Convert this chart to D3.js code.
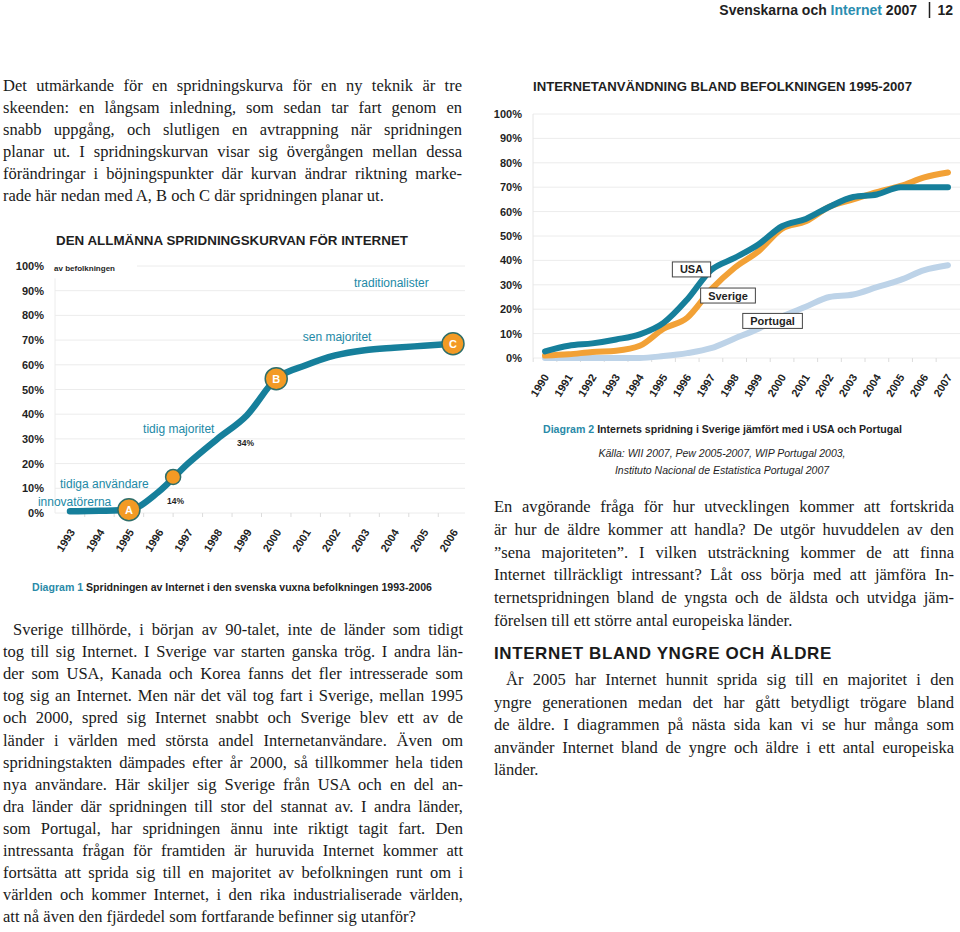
<!DOCTYPE html>
<html><head><meta charset="utf-8">
<script src="https://cdn.jsdelivr.net/npm/d3@7"></script>
<style>
html,body{margin:0;padding:0;background:#fff;}
body{width:960px;height:932px;position:relative;overflow:hidden;}
svg{position:absolute;left:0;top:0;}
.ln{position:absolute;white-space:nowrap;font-family:"Liberation Serif","Times New Roman",serif;font-size:16.5px;line-height:22px;height:22px;color:#1a1a1a;}
.hd{position:absolute;white-space:nowrap;font-family:"Liberation Sans",Arial,sans-serif;font-weight:bold;font-size:17px;letter-spacing:0.6px;color:#1a1a1a;}
</style></head><body>
<svg id="chart" width="960" height="932"></svg>
<div id="text"></div>
<script>
// ---------- Data: Diagram 1 (general diffusion curve) ----------
const curveYears  = [1993,1994,1995,1996,1997,1998,1999,2000,2001,2002,2003,2004,2005,2006];
const curveValues = [0.7, 0.9, 1.3, 8.5, 20,  30,  39.5,54.4,59.8,63.8,65.9,66.9,67.7,68.5];
const markerYears  = [1995, 1996.5, 2000, 2006];
const markerValues = [1.3, 14.6, 54.4, 68.5];
const markerLabels = ["A", "", "B", "C"];
const pctTicks = [0,10,20,30,40,50,60,70,80,90,100];
const phaseLabels = ["innovatörerna","tidiga användare","tidig majoritet","sen majoritet","traditionalister"];
const phaseYears  = [1991.91, 1992.66, 1995.48, 2000.9, 2002.64];
const phaseValues = [4.45, 11.7, 34, 71.3, 93.1];
const shareLabels = ["14%","34%"];
const shareYears  = [1996.29, 1998.67];
const shareValues = [4.9, 28.3];

// ---------- Data: Diagram 2 (Sweden, USA, Portugal) ----------
const years2 = [1990,1991,1992,1993,1994,1995,1996,1997,1998,1999,2000,2001,2002,2003,2004,2005,2006,2007];
const usaValues      = [2.7,5,6,7.6,9.7,14.4,24,36,41,46.5,54,57,62,66,67,70,70,70];
const sverigeValues  = [1,1.5,2.5,3,5,12,16.5,28,37,43.7,53,56,62,65,68,70.5,74,76];
const portugalValues = [0,0,0,0,0,0.8,2,4,8,12,17,21,25,26,29,32,36,38];
const seriesNames = ["Portugal","Sverige","USA"];
const labelYears  = [1999.6, 1997.72, 1996.18];
const labelValues = [15.2, 25.6, 36.3];

const TEAL = "#167f9b", ORANGE = "#f2a136", LIGHT = "#bdd3e8", TXT = "#1f1f1f", ANN = "#2289a6";
const SANS = "'Liberation Sans', Arial, sans-serif";

const svg = d3.select("#chart");

// ---------- Header ----------
const hdr = svg.append("text").attr("x", 917).attr("y", 15).attr("text-anchor","end")
  .style("font-family", SANS).style("font-size","14px").style("font-weight","bold").attr("fill", TXT);
hdr.append("tspan").text("Svenskarna och ");
hdr.append("tspan").attr("fill", "#2a8db0").text("Internet");
hdr.append("tspan").text(" 2007");
svg.append("line").attr("x1",929.5).attr("x2",929.5).attr("y1",2).attr("y2",18).attr("stroke",TXT).attr("stroke-width",1.5);
svg.append("text").attr("x",953).attr("y",15).attr("text-anchor","end").style("font-family",SANS)
  .style("font-size","14px").style("font-weight","bold").attr("fill",TXT).text("12");

// ---------- Diagram 1 ----------
const x1 = d3.scaleLinear().domain([1993, 2006]).range([70, 453]);
const y1 = d3.scaleLinear().domain([0, 100]).range([513, 266]);
const g1 = svg.append("g");

g1.append("text").attr("x", 56).attr("y", 245).attr("textLength", 352).attr("lengthAdjust","spacingAndGlyphs")
  .style("font-family", SANS).style("font-size","13px").style("font-weight","bold").attr("fill", TXT)
  .text("DEN ALLMÄNNA SPRIDNINGSKURVAN FÖR INTERNET");

g1.selectAll(".grid").data(pctTicks).join("line")
  .attr("x1", 55).attr("x2", 465).attr("y1", d => y1(d)).attr("y2", d => y1(d))
  .attr("stroke", "#ececec").attr("stroke-width", 1);
g1.append("line").attr("x1",55).attr("x2",55).attr("y1",y1(95)).attr("y2",y1(0)).attr("stroke","#ececec");
g1.selectAll(".tk").data(d3.range(1993.5, 2006, 1)).join("line")
  .attr("x1", d => x1(d)).attr("x2", d => x1(d)).attr("y1", y1(0)).attr("y2", y1(0) + 4)
  .attr("stroke", "#dcdcdc");

const yAxis1 = g1.append("g").attr("transform", "translate(44,0)")
  .call(d3.axisLeft(y1).tickValues(pctTicks).tickFormat(d => d + "%").tickSize(0).tickPadding(0));
yAxis1.select(".domain").remove();
yAxis1.selectAll("text").style("font-family", SANS).style("font-size","11px").style("font-weight","bold").attr("fill", TXT);

const xAxis1 = g1.append("g").attr("transform", `translate(0,${y1(0)})`)
  .call(d3.axisBottom(x1).tickValues(curveYears).tickFormat(d3.format("d")).tickSize(0));
xAxis1.select(".domain").remove();
xAxis1.selectAll("text").attr("text-anchor","end").attr("dy",0).attr("y",0)
  .attr("transform", "translate(5,19) rotate(-58)")
  .style("font-family", SANS).style("font-size","11px").style("font-weight","bold").attr("fill", TXT);

// white box for "av befolkningen"
g1.append("rect").attr("x", 50).attr("y", y1(100) - 5).attr("width", 87).attr("height", 10).attr("fill","#fff");
g1.append("text").attr("x", x1(1992.46)).attr("y", y1(99.2)).attr("dy","0.35em")
  .style("font-family", SANS).style("font-size","8px").style("font-weight","bold").attr("fill", TXT).text("av befolkningen");

g1.append("path").datum(curveYears.map((d,i)=>[d, curveValues[i]]))
  .attr("d", d3.line().x(d=>x1(d[0])).y(d=>y1(d[1])).curve(d3.curveMonotoneX))
  .attr("fill","none").attr("stroke", TEAL).attr("stroke-width", 6.5).attr("stroke-linecap","round").attr("stroke-linejoin","round");

const mk = g1.selectAll(".mk").data(markerYears.map((d,i)=>({x:d, v:markerValues[i], l:markerLabels[i]}))).join("g")
  .attr("transform", d => `translate(${x1(d.x)},${y1(d.v)})`);
mk.append("circle").attr("r", d => d.l ? 11 : 7.5).attr("fill", "#f39a24").attr("stroke", "#2e6e6a").attr("stroke-width", 1.5);
mk.append("text").attr("text-anchor","middle").attr("dy","0.36em").style("font-family",SANS)
  .style("font-size","11px").style("font-weight","bold").attr("fill","#fff").text(d=>d.l);

g1.selectAll(".ph").data(phaseLabels).join("text")
  .attr("x", (d,i)=>x1(phaseYears[i])).attr("y", (d,i)=>y1(phaseValues[i])).attr("dy","0.35em")
  .style("font-family", SANS).style("font-size","12px").attr("fill", ANN).text(d=>d);
g1.selectAll(".sh").data(shareLabels).join("text")
  .attr("x", (d,i)=>x1(shareYears[i])).attr("y", (d,i)=>y1(shareValues[i])).attr("dy","0.35em")
  .style("font-family", SANS).style("font-size","8.5px").style("font-weight","bold").attr("fill", TXT).text(d=>d);

const cap1 = g1.append("text").attr("x", 32).attr("y", 591).attr("textLength", 400).attr("lengthAdjust","spacingAndGlyphs")
  .style("font-family", SANS).style("font-size","10.5px").style("font-weight","bold").attr("fill", TXT);
cap1.append("tspan").attr("fill", "#2a8aa8").text("Diagram 1");
cap1.append("tspan").text(" Spridningen av Internet i den svenska vuxna befolkningen 1993-2006");

// ---------- Diagram 2 ----------
const x2 = d3.scaleLinear().domain([1990, 2007]).range([545, 948]);
const y2 = d3.scaleLinear().domain([0, 100]).range([358, 114]);
const g2 = svg.append("g");

g2.append("text").attr("x", 533).attr("y", 91).attr("textLength", 379).attr("lengthAdjust","spacingAndGlyphs")
  .style("font-family", SANS).style("font-size","13px").style("font-weight","bold").attr("fill", TXT)
  .text("INTERNETANVÄNDNING BLAND BEFOLKNINGEN 1995-2007");

g2.selectAll(".grid").data(pctTicks).join("line")
  .attr("x1", 533).attr("x2", 960).attr("y1", d => y2(d)).attr("y2", d => y2(d))
  .attr("stroke", "#ececec");
g2.append("line").attr("x1",533).attr("x2",533).attr("y1",y2(100)).attr("y2",y2(0)).attr("stroke","#e6e6e6");
g2.selectAll(".tk").data(years2.map(d=>d-0.5)).join("line")
  .attr("x1", d => x2(d)).attr("x2", d => x2(d)).attr("y1", y2(0)).attr("y2", y2(0) + 4).attr("stroke", "#dcdcdc");

const yAxis2 = g2.append("g").attr("transform", "translate(522,0)")
  .call(d3.axisLeft(y2).tickValues(pctTicks).tickFormat(d => d + "%").tickSize(0).tickPadding(0));
yAxis2.select(".domain").remove();
yAxis2.selectAll("text").style("font-family", SANS).style("font-size","11px").style("font-weight","bold").attr("fill", TXT);

const xAxis2 = g2.append("g").attr("transform", `translate(0,${y2(0)})`)
  .call(d3.axisBottom(x2).tickValues(years2).tickFormat(d3.format("d")).tickSize(0));
xAxis2.select(".domain").remove();
xAxis2.selectAll("text").attr("text-anchor","end").attr("dy",0).attr("y",0)
  .attr("transform", "translate(4,19) rotate(-58)")
  .style("font-family", SANS).style("font-size","11px").style("font-weight","bold").attr("fill", TXT);

const series = [portugalValues, sverigeValues, usaValues];
const colors = [LIGHT, ORANGE, TEAL];
const line2 = d3.line().x((d,i)=>x2(years2[i])).y(d=>y2(d)).curve(d3.curveMonotoneX);
g2.selectAll(".ser").data(series).join("path")
  .attr("d", line2).attr("fill","none").attr("stroke", (d,i)=>colors[i]).attr("stroke-width", 6)
  .attr("stroke-linecap","round").attr("stroke-linejoin","round");

const lab = g2.selectAll(".lab").data(seriesNames).join("g")
  .attr("transform", (d,i)=>`translate(${x2(labelYears[i])},${y2(labelValues[i])})`);
lab.append("text").attr("text-anchor","middle").attr("dy","0.36em")
  .style("font-family",SANS).style("font-size","11px").style("font-weight","bold").attr("fill",TXT).text(d=>d);
lab.each(function(){
  const t = d3.select(this).select("text").node().getBBox();
  d3.select(this).insert("rect","text").attr("x", -t.width/2 - 7.5).attr("y", -7.5)
    .attr("width", t.width + 15).attr("height", 15).attr("fill","#fff").attr("stroke","#444").attr("stroke-width",1);
});

const cap2 = g2.append("text").attr("x", 543).attr("y", 433).attr("textLength", 359).attr("lengthAdjust","spacingAndGlyphs")
  .style("font-family", SANS).style("font-size","10.5px").style("font-weight","bold").attr("fill", TXT);
cap2.append("tspan").attr("fill", "#2a8aa8").text("Diagram 2");
cap2.append("tspan").text(" Internets spridning i Sverige jämfört med i USA och Portugal");
g2.selectAll(".src").data(["Källa: WII 2007, Pew 2005-2007, WIP Portugal 2003,", "Instituto Nacional de Estatistica Portugal 2007"]).join("text")
  .attr("x", 722).attr("y", (d,i)=> 457 + i*17).attr("text-anchor","middle")
  .style("font-family", SANS).style("font-size","10.5px").style("font-style","italic").attr("fill", TXT).text(d=>d);

// ---------- Body text ----------
const para1 = ["Det utmärkande för en spridningskurva för en ny teknik är tre",
"skeenden: en långsam inledning, som sedan tar fart genom en",
"snabb uppgång, och slutligen en avtrappning när spridningen",
"planar ut. I spridningskurvan visar sig övergången mellan dessa",
"förändringar i böjningspunkter där kurvan ändrar riktning marke-",
"rade här nedan med A, B och C där spridningen planar ut."];
const para2 = ["Sverige tillhörde, i början av 90-talet, inte de länder som tidigt",
"tog till sig Internet. I Sverige var starten ganska trög. I andra län-",
"der som USA, Kanada och Korea fanns det fler intresserade som",
"tog sig an Internet. Men när det väl tog fart i Sverige, mellan 1995",
"och 2000, spred sig Internet snabbt och Sverige blev ett av de",
"länder i världen med största andel Internetanvändare. Även om",
"spridningstakten dämpades efter år 2000, så tillkommer hela tiden",
"nya användare. Här skiljer sig Sverige från USA och en del an-",
"dra länder där spridningen till stor del stannat av. I andra länder,",
"som Portugal, har spridningen ännu inte riktigt tagit fart. Den",
"intressanta frågan för framtiden är huruvida Internet kommer att",
"fortsätta att sprida sig till en majoritet av befolkningen runt om i",
"världen och kommer Internet, i den rika industrialiserade världen,",
"att nå även den fjärdedel som fortfarande befinner sig utanför?"];
const para3 = ["En avgörande fråga för hur utvecklingen kommer att fortskrida",
"är hur de äldre kommer att handla? De utgör huvuddelen av den",
"”sena majoriteten”. I vilken utsträckning kommer de att finna",
"Internet tillräckligt intressant? Låt oss börja med att jämföra In-",
"ternetspridningen bland de yngsta och de äldsta och utvidga jäm-",
"förelsen till ett större antal europeiska länder."];
const heading4 = "INTERNET BLAND YNGRE OCH ÄLDRE";
const para4 = ["År 2005 har Internet hunnit sprida sig till en majoritet i den",
"yngre generationen medan det har gått betydligt trögare bland",
"de äldre. I diagrammen på nästa sida kan vi se hur många som",
"använder Internet bland de yngre och äldre i ett antal europeiska",
"länder."];

const textDiv = d3.select("#text");
function para(lines, left, right, yCenter0, lh, indent) {
  lines.forEach((s, i) => {
    const x = left + (i === 0 ? indent : 0);
    const W = right - x;
    const div = textDiv.append("div").attr("class","ln")
      .style("left", x + "px").style("top", (yCenter0 + i*lh - 12) + "px");
    const span = div.append("span").text(s);
    const w = span.node().getBoundingClientRect().width;
    const last = i === lines.length - 1;
    const spaces = (s.match(/ /g) || []).length;
    if (w > W) {
      span.style("letter-spacing", ((W - w) / s.length) + "px");
      const w2 = span.node().getBoundingClientRect().width;
      if (!last && spaces) span.style("word-spacing", ((W - w2) / spaces) + "px");
    } else if (!last && spaces) {
      span.style("word-spacing", ((W - w) / spaces) + "px");
    }
  });
}
para(para1, 3, 462, 87, 22, 0);
para(para2, 3, 463, 631, 22.1, 10);
para(para3, 494, 954, 508, 22.8, 0);
textDiv.append("div").attr("class","hd").style("left","494px").style("top","644px").text(heading4);
para(para4, 494, 954, 681, 22.6, 12);
</script>
</body></html>
